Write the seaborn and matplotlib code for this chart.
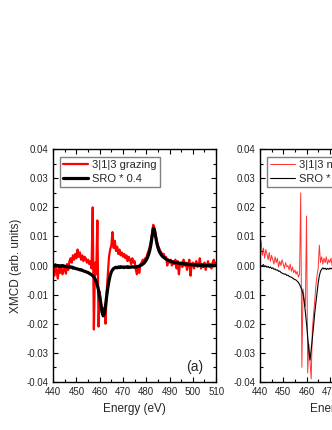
import numpy as np
import matplotlib
matplotlib.use("Agg")
import matplotlib.pyplot as plt
import seaborn as sns
from matplotlib.ticker import MultipleLocator

# energy grids (eV)
energy_a = np.arange(440, 510.01, 0.5)
energy_b = np.concatenate([np.arange(440, 475, 0.5), np.arange(475, 510.01, 1.0)])

# panel (a), values in 1e-3 arb. units
grazing_a = [
    -1.0, -3.5, 0.5, -2.0, -4.5, -0.5, -2.5, 0.0, -3.0, -1.5,
    -1.0, -2.8, 0.5, -1.5, 1.5, 2.5, 1.0, 3.5, 2.0, 4.0,
    2.5, 5.5, 3.0, 4.5, 2.0, 3.5, 1.5, 3.0, 2.5, 1.0,
    2.0, 0.5, 1.5, -1.0, 20.0, -22.0, 1.0, -3.0, 15.5, -21.0,
    -9.0, -12.0, -15.5, -16.0, -14.5, -20.0, -9.0, -3.0, 3.0, 5.5,
    7.0, 11.5, 6.0, 8.5, 5.0, 6.5, 4.0, 5.5, 3.5, 4.5,
    3.0, 4.0, 2.5, 3.5, 1.5, 3.0, 2.0, 0.5, 2.5, 1.0,
    1.5, -1.5, -3.0, -0.5, -2.5, 0.5, 1.0, 2.0, 1.0, 2.5,
    2.5, 4.0, 5.0, 6.5, 8.5, 11.0, 14.0, 13.0, 10.5, 8.5,
    7.0, 6.0, 5.0, 4.5, 3.5, 4.0, 2.5, 3.0, 0.0, 2.0,
    1.0, 2.0, 0.0, 1.5, 0.5, 2.0, -1.0, 1.5, -3.0, 0.5,
    1.0, -0.5, 2.0, 0.0, 1.0, -1.5, 0.5, 2.0, -3.5, 0.5,
    1.0, -1.0, 0.5, 1.5, -0.5, 0.0, 2.5, -1.0, 0.5, -0.5,
    1.0, -1.5, 0.0, 1.5, -0.5, 0.5, -1.0, 1.0, 2.0, 0.0,
    1.0,
]
sro_a = [
    0.0, -0.2, 0.1, -0.1, 0.0, -0.3, -0.1, -0.2, 0.0, -0.3,
    -0.2, -0.4, -0.3, -0.5, -0.4, -0.6, -0.5, -0.9, -0.8, -1.0,
    -1.1, -1.2, -1.3, -1.5, -1.4, -1.7, -1.8, -2.0, -2.1, -2.3,
    -2.4, -2.7, -2.9, -3.2, -3.5, -4.0, -4.6, -5.5, -6.8, -8.5,
    -10.8, -13.5, -16.0, -17.3, -16.5, -13.8, -10.5, -7.6, -5.2, -3.4,
    -2.2, -1.5, -1.0, -0.8, -0.6, -0.8, -0.5, -0.7, -0.4, -0.6,
    -0.5, -0.7, -0.5, -0.6, -0.4, -0.7, -0.5, -0.6, -0.4, -0.5,
    -0.6, -0.4, -0.5, -0.3, -0.2, 0.0, 0.2, 0.5, 0.8, 1.3,
    1.9, 2.7, 3.8, 5.2, 7.2, 10.0, 12.8, 12.3, 10.0, 7.8,
    6.2, 5.0, 4.2, 3.6, 3.1, 2.8, 2.5, 2.2, 2.0, 1.8,
    1.6, 1.5, 1.3, 1.2, 1.1, 1.0, 0.9, 1.0, 0.8, 0.7,
    0.8, 0.6, 0.7, 0.5, 0.6, 0.4, 0.5, 0.3, 0.4, 0.2,
    0.3, 0.2, 0.1, 0.3, 0.1, 0.2, 0.0, 0.2, 0.1, -0.1,
    0.1, 0.0, -0.1, 0.1, 0.0, -0.1, 0.1, 0.0, -0.1, 0.0,
    0.0,
]

# panel (b)
normal_b = [
    5.0, 8.5, 3.5, 6.0, 2.5, 5.5, 4.0, 2.0, 4.5, 1.5,
    3.5, 2.0, 0.5, 3.0, 1.0, 2.5, -0.5, 1.5, 0.0, 2.0,
    0.5, -1.0, 1.0, -0.5, 0.0, -1.5, 0.5, -2.0, -0.5, -2.5,
    -1.5, -3.0, -2.0, -4.0, -3.0, 25.0, -35.0, -8.0, -11.5, -14.0,
    17.0, -37.0, -27.0, -33.0, -39.0, -22.0, -17.0, -12.5, -7.0, -3.5,
    -1.0, 7.0, 1.0, 3.0, 0.5, 2.5, 1.0, 3.0, 0.5, 2.0,
    1.0, 2.5, 0.0, 1.5, 0.5, 2.0, -0.5, 1.0, 0.5, 1.5,
    0.5, -1.0, 0.0, 1.0, 1.5, 2.5, 4.5, 8.0, 13.0, 9.5,
    6.0, 4.5, 3.5, 2.0, 2.5, 1.0, 2.0, 0.5, 1.5, 0.0,
    1.0, -0.5, 1.0, 0.5, -0.5, 1.0, 0.0, 0.5, -0.5, 1.0,
    0.0, 0.5, -0.5, 0.5, 0.0, 0.5,
]
sro_b = [
    0.2, -0.3, 0.0, 0.3, -0.4, -0.1, -0.6, -0.3, -0.8, -0.5,
    -1.0, -0.8, -1.3, -1.2, -1.6, -1.5, -2.0, -1.9, -2.4, -2.6,
    -2.8, -3.0, -2.9, -3.4, -3.3, -3.7, -3.9, -4.0, -4.3, -4.6,
    -4.8, -5.0, -5.4, -5.8, -6.5, -7.4, -8.4, -9.8, -12.5, -16.0,
    -20.0, -24.5, -29.0, -32.5, -29.0, -25.0, -21.0, -16.5, -13.0, -9.5,
    -6.0, -3.5, -2.0, -1.3, -0.8, -1.2, -0.9, -1.4, -1.0, -1.3,
    -0.9, -1.2, -0.8, -1.1, -0.7, -1.0, -0.6, -0.9, -0.5, -0.7,
    -0.5, -0.4, -0.2, 0.3, 0.9, 2.0, 4.0, 7.5, 12.0, 9.0,
    5.5, 4.0, 3.0, 2.4, 2.0, 1.6, 1.3, 1.1, 0.9, 0.8,
    0.7, 0.6, 0.5, 0.4, 0.3, 0.3, 0.2, 0.2, 0.1, 0.1,
    0.0, 0.1, 0.0, 0.0, 0.1, 0.0,
]

x_ticks = [440, 450, 460, 470, 480, 490, 500, 510]
y_ticks = [-0.04, -0.03, -0.02, -0.01, 0.00, 0.01, 0.02, 0.03, 0.04]

sns.set_style("ticks")
plt.rcParams['font.family'] = ['Liberation Sans', 'DejaVu Sans']

fig = plt.figure(figsize=(3.32, 4.30), dpi=100)
ax1 = fig.add_axes([0.160, 0.112, 0.491, 0.541])
ax2 = fig.add_axes([0.783, 0.112, 0.491, 0.541])

scale = 1e-3
sns.lineplot(x=energy_a, y=np.array(grazing_a) * scale, ax=ax1, color='red',
             lw=1.6, sort=False, label='3|1|3 grazing')
sns.lineplot(x=energy_a, y=np.array(sro_a) * scale, ax=ax1, color='black',
             lw=2.3, sort=False, label='SRO * 0.4')

sns.lineplot(x=energy_b, y=np.array(normal_b) * scale, ax=ax2, color='red',
             lw=0.7, alpha=0.8, sort=False, label='3|1|3 normal')
sns.lineplot(x=energy_b, y=np.array(sro_b) * scale, ax=ax2, color='black',
             lw=0.8, sort=False, label='SRO * 0.4')

for ax in (ax1, ax2):
    ax.set_xlim(440, 510)
    ax.set_ylim(-0.04, 0.04)
    ax.set_xticks(x_ticks)
    ax.set_yticks(y_ticks)
    ax.set_yticklabels([f'{t:.2f}' for t in y_ticks])
    ax.xaxis.set_minor_locator(MultipleLocator(5))
    ax.yaxis.set_minor_locator(MultipleLocator(0.005))
    ax.tick_params(which='both', direction='in', top=True, right=True,
                   labelsize=7, pad=3.5, width=0.8, color='black')
    ax.tick_params(which='major', length=3.5)
    ax.tick_params(which='minor', length=2)
    for s in ax.spines.values():
        s.set_linewidth(1.0)
        s.set_color('black')
    ax.set_xlabel('Energy (eV)', fontsize=8.5, labelpad=4.5)
    ax.set_ylabel('')
    leg = ax.legend(loc='upper left', bbox_to_anchor=(0.043, 0.968),
                    borderaxespad=0, fontsize=8, fancybox=False,
                    framealpha=1, edgecolor='#808080', handlelength=2.2,
                    labelspacing=0.35, borderpad=0.3, handletextpad=0.35)
    leg.get_frame().set_linewidth(1.0)

ax1.set_ylabel('XMCD (arb. units)', fontsize=8.5, labelpad=3)
ax1.text(0.87, 0.065, '(a)', transform=ax1.transAxes, fontsize=10,
         ha='center', va='center')
ax2.text(0.87, 0.065, '(b)', transform=ax2.transAxes, fontsize=10,
         ha='center', va='center')

fig.savefig('out.png', dpi=100)
plt.close(fig)
